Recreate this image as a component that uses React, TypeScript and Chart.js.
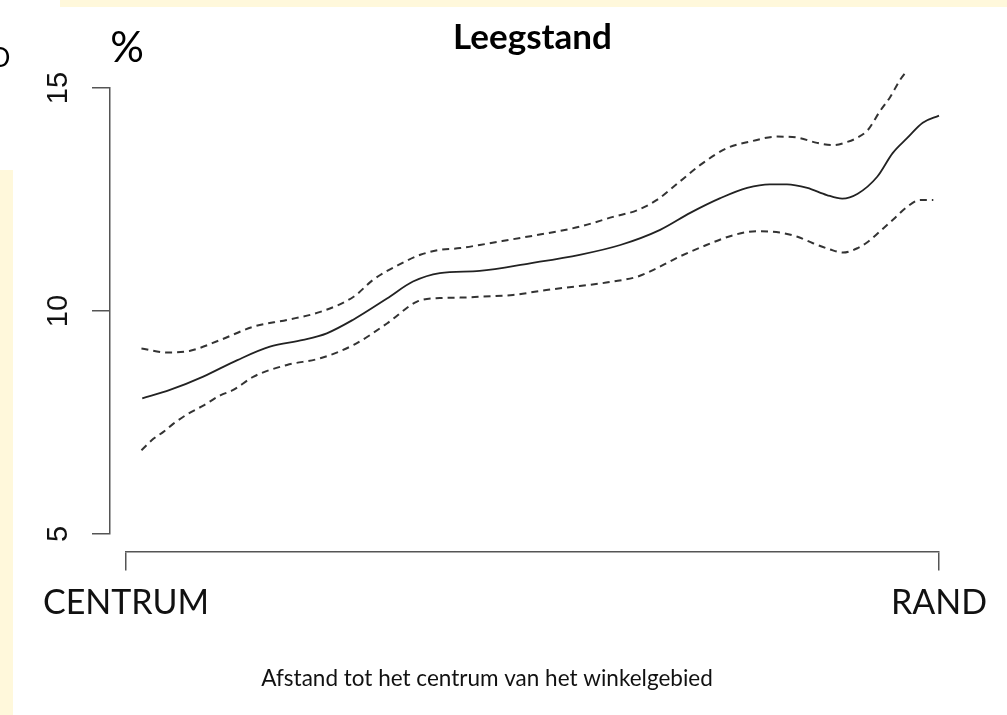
import { useEffect, useRef } from 'react';
import { Chart, registerables } from 'chart.js';

Chart.register(...registerables);

// ---- data (x: 0 = CENTRUM, 100 = RAND; y: leegstand %) ----
const fitX = [2.0, 5.4, 9.5, 13.7, 17.7, 21.8, 24.7, 27.9, 32.1, 35.3, 38.6, 43.5, 49.7, 55.8, 60.8, 65.7, 69.4, 73.1, 76.4, 79.2, 81.3, 83.8, 86.2, 88.1, 90.0, 92.4, 94.3, 96.1, 98.0, 100];
const fitY = [8.04, 8.23, 8.53, 8.90, 9.20, 9.35, 9.50, 9.80, 10.28, 10.66, 10.85, 10.90, 11.07, 11.26, 11.48, 11.82, 12.20, 12.53, 12.76, 12.84, 12.84, 12.76, 12.60, 12.52, 12.63, 13.01, 13.54, 13.88, 14.22, 14.38];

const upperX = [1.9, 5.0, 7.9, 11.6, 15.7, 19.8, 23.9, 28.0, 30.4, 33.7, 36.2, 38.6, 41.1, 43.5, 47.6, 51.7, 55.8, 59.9, 62.9, 65.3, 68.1, 70.6, 73.9, 76.8, 80.1, 82.5, 85.0, 87.0, 88.7, 90.0, 91.3, 92.7, 94.0, 95.2, 96.1];
const upperY = [9.16, 9.07, 9.11, 9.35, 9.65, 9.80, 9.98, 10.32, 10.70, 11.05, 11.26, 11.37, 11.41, 11.48, 11.61, 11.74, 11.89, 12.11, 12.26, 12.49, 12.90, 13.27, 13.65, 13.80, 13.91, 13.89, 13.77, 13.72, 13.79, 13.89, 14.07, 14.47, 14.80, 15.18, 15.40];

const lowerX = [1.9, 3.4, 4.6, 5.8, 7.5, 9.5, 11.6, 13.2, 15.7, 19.8, 23.9, 28.0, 32.1, 35.8, 38.6, 41.1, 43.5, 47.6, 51.7, 55.8, 59.9, 62.9, 65.3, 68.1, 71.4, 74.7, 77.6, 80.4, 82.5, 84.5, 86.6, 88.2, 90.0, 91.1, 92.7, 94.3, 96.1, 97.7, 99.3];
const lowerY = [6.88, 7.14, 7.29, 7.47, 7.68, 7.88, 8.11, 8.23, 8.53, 8.79, 8.94, 9.24, 9.72, 10.21, 10.29, 10.30, 10.32, 10.36, 10.47, 10.56, 10.66, 10.77, 10.96, 11.22, 11.48, 11.70, 11.79, 11.76, 11.67, 11.52, 11.38, 11.31, 11.41, 11.53, 11.78, 12.04, 12.34, 12.49, 12.49];

const yTicks = [5, 10, 15];
const xTickValues = [0, 100];
const xTickLabels = ['CENTRUM', 'RAND'];

const titleText = 'Leegstand';
const xTitleText = 'Afstand tot het centrum van het winkelgebied';
const unitText = '%';
const sideText = 'O';

const pts = (xs: number[], ys: number[]) => xs.map((x, i) => ({ x, y: ys[i] }));

const extraText = {
  id: 'extraText',
  afterDraw(chart: any) {
    const ctx = chart.ctx;
    ctx.save();
    ctx.fillStyle = '#000';
    ctx.textAlign = 'center';
    ctx.textBaseline = 'alphabetic';
    ctx.font = '42px Lato';
    ctx.fillText(unitText, 127, 62);
    ctx.font = '26px Lato';
    ctx.fillText(sideText, 0, 67);
    ctx.restore();
  },
};

export default function App() {
  const ref = useRef<HTMLCanvasElement | null>(null);

  useEffect(() => {
    if (!ref.current) return;
    const axisColor = '#555';
    const chart = new Chart(ref.current, {
      type: 'line',
      data: {
        datasets: [
          {
            label: 'fit',
            data: pts(fitX, fitY),
            borderColor: '#222',
            borderWidth: 1.8,
            pointRadius: 0,
            cubicInterpolationMode: 'monotone',
            clip: false as any,
            xAxisID: 'x',
            yAxisID: 'y',
          },
          {
            label: 'upper',
            data: pts(upperX, upperY),
            borderColor: '#333',
            borderWidth: 2,
            borderDash: [7, 5],
            pointRadius: 0,
            cubicInterpolationMode: 'monotone',
            clip: false as any,
            xAxisID: 'x',
            yAxisID: 'y',
          },
          {
            label: 'lower',
            data: pts(lowerX, lowerY),
            borderColor: '#333',
            borderWidth: 2,
            borderDash: [7, 5],
            pointRadius: 0,
            cubicInterpolationMode: 'monotone',
            clip: false as any,
            xAxisID: 'x',
            yAxisID: 'y',
          },
        ],
      },
      options: {
        responsive: false,
        animation: false,
        devicePixelRatio: 1,
        layout: { padding: { left: 35, right: 68, top: 0, bottom: 0 } },
        plugins: {
          legend: { display: false },
          tooltip: { enabled: false },
          title: {
            display: true,
            text: titleText,
            fullSize: false,
            color: '#000',
            font: { family: 'Lato', size: 35, weight: 'bold' },
            padding: { top: 17, bottom: 29 },
          },
          subtitle: {
            display: true,
            text: xTitleText,
            position: 'bottom',
            fullSize: true,
            color: '#111',
            font: { family: 'Lato', size: 22.5 },
            padding: { top: 131, bottom: 23 },
          },
        },
        scales: {
          x: {
            type: 'linear',
            axis: 'x',
            position: { y: 4.6 } as any,
            min: 0,
            max: 100,
            afterBuildTicks: (s: any) => {
              s.ticks = xTickValues.map((v) => ({ value: v }));
            },
            ticks: {
              autoSkip: false,
              minRotation: 0,
              maxRotation: 0,
              padding: 13,
              color: '#111',
              font: { family: 'Lato', size: 34 },
              callback: (_v: any, i: number) => xTickLabels[i],
            },
            grid: { drawOnChartArea: false, drawTicks: true, tickLength: 18, color: axisColor, lineWidth: 1.5 },
            border: { display: true, color: axisColor, width: 1.5 },
          },
          y: {
            type: 'linear',
            axis: 'y',
            position: { x: -2 } as any,
            min: 5,
            max: 15,
            afterBuildTicks: (s: any) => {
              s.ticks = yTicks.map((v) => ({ value: v }));
            },
            ticks: { display: false },
            grid: { drawOnChartArea: false, drawTicks: true, tickLength: 17, color: axisColor, lineWidth: 1.5 },
            border: { display: true, color: axisColor, width: 1.5 },
          },
          yLabels: {
            type: 'linear',
            axis: 'y',
            position: 'left',
            min: 5,
            max: 15,
            afterBuildTicks: (s: any) => {
              s.ticks = yTicks.map((v) => ({ value: v }));
            },
            afterFit: (s: any) => {
              s.width = 91;
            },
            ticks: {
              minRotation: 90,
              maxRotation: 90,
              crossAlign: 'center',
              padding: 51,
              color: '#111',
              font: { family: 'Liberation Sans', size: 29 },
            },
            grid: { display: false, drawTicks: false },
            border: { display: false },
          },
        } as any,
      },
      plugins: [extraText],
    } as any);
    return () => chart.destroy();
  }, []);

  return (
    <div style={{ position: 'absolute', left: 0, top: 0, width: 1007, height: 715, background: '#fff' }}>
      <div style={{ position: 'absolute', left: 60, top: 0, width: 947, height: 7, background: '#FFF8DB' }} />
      <div style={{ position: 'absolute', left: 0, top: 170, width: 13, height: 545, background: '#FFF8DB' }} />
      <canvas ref={ref} width={1007} height={715} style={{ position: 'absolute', left: 0, top: 0 }} />
    </div>
  );
}
